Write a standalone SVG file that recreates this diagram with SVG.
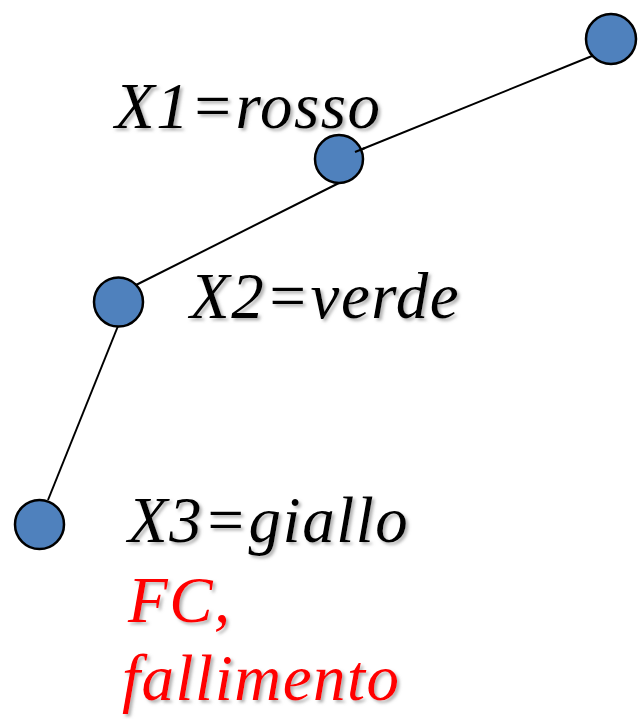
<svg xmlns="http://www.w3.org/2000/svg" width="638" height="719" viewBox="0 0 638 719">
<defs>
<filter id="sh" x="-10%" y="-20%" width="130%" height="150%">
<feDropShadow dx="2.5" dy="2.5" stdDeviation="1.5" flood-color="#808080" flood-opacity="0.6"/>
</filter>
<style>
.node{fill:#4F81BD;stroke:#000;stroke-width:2.5}
.edge{stroke:#000;stroke-width:2;fill:none}
.lbl{font-family:"Liberation Serif","Times New Roman",serif;font-style:italic;font-size:65px;letter-spacing:1.5px;fill:#000;filter:url(#sh)}
.red{fill:#FF0000}
</style>
</defs>
<g id="connectors">
<line class="edge" x1="592" y1="56" x2="355" y2="152"/>
<line class="edge" x1="339" y1="183" x2="134" y2="286"/>
<line class="edge" x1="118" y1="326" x2="48" y2="500"/>
</g>
<g id="n1"><circle class="node" cx="611" cy="39" r="25"/></g>
<g id="n2"><circle class="node" cx="339" cy="159" r="24"/><line class="edge" x1="355" y1="152" x2="365" y2="148"/></g>
<g id="n3"><circle class="node" cx="118.5" cy="302" r="24.5"/></g>
<g id="n4"><circle class="node" cx="39.5" cy="524.5" r="24.5"/></g>
<g id="labels">
<text class="lbl" x="115" y="128">X1=rosso</text>
<text class="lbl" x="190" y="318">X2=verde</text>
<text class="lbl" x="128" y="542">X3=giallo</text>
<text class="lbl red" x="128" y="622">FC,</text>
<text class="lbl red" x="122" y="700">fallimento</text>
</g>
</svg>
